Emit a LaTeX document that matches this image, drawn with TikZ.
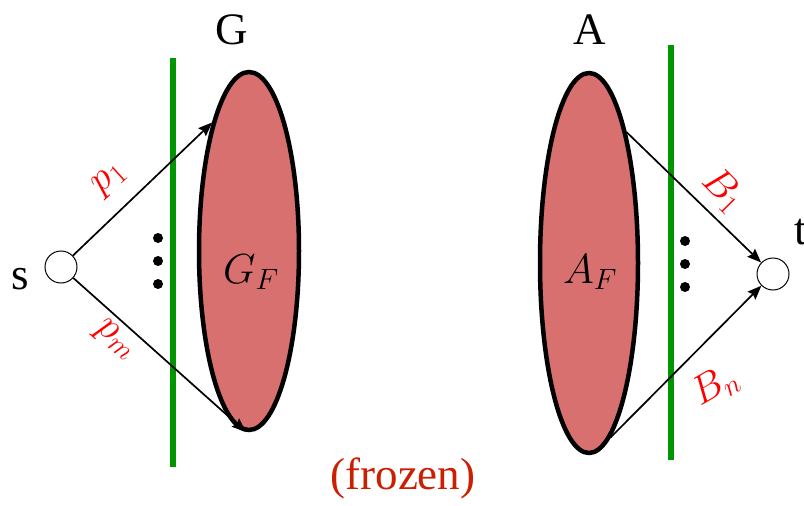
\RequirePackage{fix-cm}
\documentclass[tikz,border=0pt]{standalone}
\usepackage{amsmath,amssymb}
\usepackage{fontspec}
\setmainfont{Liberation Serif}
\usetikzlibrary{arrows.meta,shapes.geometric,positioning}
\definecolor{blobred}{RGB}{217,112,112}
\definecolor{cutgreen}{RGB}{0,150,0}
\definecolor{frozenred}{RGB}{204,30,0}

\begin{document}
\begin{tikzpicture}[x=1pt,y=-1pt]
\tikzset{
  blob/.style={ellipse,draw=black,fill=blobred,line width=4.5pt,inner sep=0pt},
  terminal/.style={circle,draw=black,fill=white,line width=1pt,minimum size=32pt,inner sep=0pt},
  cutline/.style={draw=cutgreen,line width=6.5pt},
  flowedge/.style={draw=black,line width=1.7pt,-{Stealth[length=14pt,width=11pt,inset=2pt]}},
  edgelabel/.style={text=red,font=\fontsize{40}{40}\selectfont},
  setlabel/.style={font=\fontsize{45}{45}\selectfont},
  innerlabel/.style={font=\fontsize{42}{42}\selectfont},
  dotmark/.style={circle,fill=black,minimum size=10pt,inner sep=0pt}
}
\useasboundingbox (0,0) rectangle (804,506);
% sets
\node[blob,minimum width=100pt,minimum height=358pt] (n_GF) at (249,251) {};
\node[blob,minimum width=98pt,minimum height=380pt] (n_AF) at (589,263) {};
\node[innerlabel] at (251,272) {$G_F$};
\node[innerlabel] at (590,272) {$A_F$};
\node[setlabel] (n_G) at (232,30) {G};
\node[setlabel] (n_A) at (590,30) {A};
% cuts
\coordinate (c_l1) at (173,58);
\coordinate (c_l2) at (173,467);
\coordinate (c_r1) at (671,45);
\coordinate (c_r2) at (671,460);
\draw[cutline] (c_l1) -- (c_l2);
\draw[cutline] (c_r1) -- (c_r2);
% terminals
\node[terminal] (n_s) at (61,267) {};
\node[terminal] (n_t) at (773,274) {};
\node[setlabel] at (20,279) {s};
\node[setlabel] at (801,232) {t};
% paths
\draw[flowedge] (n_s) -- (n_GF.106);
\draw[flowedge] (n_s) -- (n_GF.-91);
\draw[flowedge] (n_AF.74) -- (n_t);
\draw[flowedge] (n_AF.-83) -- (n_t);
\node[edgelabel,rotate=42] at (110,180) {$p_1$};
\node[edgelabel,rotate=-40] at (115,340) {$p_m$};
\node[edgelabel,rotate=-45] at (723,190) {$B_1$};
\node[edgelabel,rotate=30] at (715,386) {$B_n$};
% dots
\foreach \y in {238,261,284} {
  \node[dotmark] at (158,\y) {};
  \node[dotmark] at (685,\y+3) {};
}
\node[text=frozenred,setlabel] at (403,478) {(frozen)};
\end{tikzpicture}
\end{document}
